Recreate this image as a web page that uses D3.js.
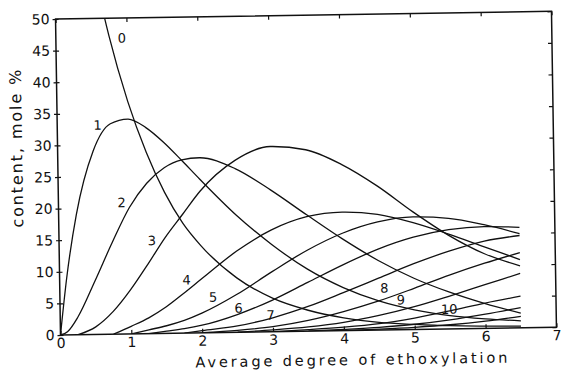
<!DOCTYPE html>
<html>
<head>
<meta charset="utf-8">
<script src="https://cdn.jsdelivr.net/npm/d3@7"></script>
<style>
  body { margin: 0; background: #fff; }
  svg { display: block; }
  text { font-family: "DejaVu Sans", sans-serif; fill: #111; }
</style>
</head>
<body>
<div id="vis"></div>
<script>
// average degree of ethoxylation at which the curves were read
var degree = [0, 0.1, 0.25, 0.5, 0.75, 1, 1.25, 1.5, 1.75, 2, 2.5, 3, 3.5, 4, 4.5, 5, 5.5, 6, 6.5];

// content, mole %, one list per adduct (null = curve not drawn there)
var adduct0  = [100, 90.5, 77.9, 60.7, 47.2, 36.8, 28.7, 22.3, 17.4, 13.8, 8.6, 5.3, 3.3, 2.0, 1.2, 0.8, 0.5, 0.35, 0.25];
var adduct1  = [0, 9.0, 19.0, 29.0, 33.3, 34.0, 32.6, 30.2, 27.3, 24.3, 18.6, 13.8, 9.8, 6.8, 4.6, 3.1, 2.1, 1.5, 1.1];
var adduct2  = [0, 0.5, 2.8, 8.5, 14.5, 20.0, 23.8, 26.2, 27.4, 27.7, 25.9, 22.4, 18.4, 14.5, 11.0, 8.1, 5.8, 3.9, 2.3];
var adduct3  = [null, null, 0, 1.2, 3.6, 7.0, 11.0, 15.2, 18.8, 22.4, 27.2, 29.3, 28.7, 26.3, 22.8, 18.6, 14.8, 11.8, 9.8];
var adduct4  = [null, null, null, null, 0, 1.2, 2.5, 4.2, 6.3, 8.5, 12.8, 16.1, 18.1, 18.75, 18.3, 16.9, 15.0, 12.9, 10.8];
var adduct5  = [null, null, null, null, null, 0, 0.6, 1.2, 2.0, 3.1, 6.0, 9.5, 12.8, 15.4, 17.1, 17.8, 17.5, 16.4, 14.9];
var adduct6  = [null, null, null, null, null, null, 0, 0.35, 0.7, 1.2, 2.8, 5.0, 7.7, 10.4, 12.8, 14.6, 15.7, 16.1, 15.9];
var adduct7  = [null, null, null, null, null, null, null, null, 0, 0.34, 1.0, 2.2, 3.9, 6.0, 8.2, 10.4, 12.3, 13.8, 14.6];
var adduct8  = [null, null, null, null, null, null, null, null, null, 0, 0.3, 0.8, 1.7, 3.0, 4.6, 6.5, 8.5, 10.3, 11.9];
var adduct9  = [null, null, null, null, null, null, null, null, null, null, 0, 0.27, 0.66, 1.3, 2.3, 3.6, 5.2, 6.9, 8.6];
var adduct10 = [null, null, null, null, null, null, null, null, null, null, null, 0, 0.23, 0.53, 1.0, 1.8, 2.85, 4.0, 5.0];
var adduct11 = [null, null, null, null, null, null, null, null, null, null, null, null, 0, 0.19, 0.43, 0.82, 1.43, 2.25, 3.2];
var adduct12 = [null, null, null, null, null, null, null, null, null, null, null, null, null, 0, 0.14, 0.34, 0.65, 1.13, 1.8];

var series = [adduct0, adduct1, adduct2, adduct3, adduct4, adduct5, adduct6,
              adduct7, adduct8, adduct9, adduct10, adduct11, adduct12];

// curve numbers and where they sit (degree, content)
var curveLabels  = ["0", "1", "2", "3", "4", "5", "6", "7", "8", "9", "10"];
var labelDegree  = [0.93, 0.57, 0.89, 1.31, 1.79, 2.16, 2.52, 2.97, 4.58, 4.81, 5.49];
var labelContent = [46.8, 33.1, 20.8, 14.7, 8.4, 5.6, 3.8, 2.6, 6.6, 4.7, 3.1];

var xTicks = [0, 1, 2, 3, 4, 5, 6, 7];
var yTicks = [0, 5, 10, 15, 20, 25, 30, 35, 40, 45, 50];

var width = 562,
    height = 371,
    plotLeft = 60.5,
    plotRight = 556.5,
    plotTop = 19,
    plotBottom = 335;

var svg = d3.select('#vis').append('svg')
    .attr('width', width)
    .attr('height', height);

// the printed page is a little skewed, so the whole chart is turned slightly
var g = svg.append('g')
    .attr('transform', 'rotate(-0.9,' + plotLeft + ',' + plotBottom + ')');

var x = d3.scaleLinear().domain([0, 7]).range([plotLeft, plotRight]);
var y = d3.scaleLinear().domain([0, 50]).range([plotBottom, plotTop]);

svg.append('defs').append('clipPath')
    .attr('id', 'plot')
  .append('rect')
    .attr('x', x(0))
    .attr('y', y(50))
    .attr('width', x(7) - x(0))
    .attr('height', y(0) - y(50));

// bottom axis with labels
g.append('g')
    .attr('transform', 'translate(0,' + plotBottom + ')')
    .call(d3.axisBottom(x).tickValues(xTicks).tickFormat(d3.format('d'))
      .tickSizeInner(-4).tickSizeOuter(0).tickPadding(3));

// left axis, ticks cross the line
var yAxis = g.append('g')
    .attr('transform', 'translate(' + plotLeft + ',0)')
    .call(d3.axisLeft(y).tickValues(yTicks).tickFormat(d3.format('d'))
      .tickSizeInner(3).tickSizeOuter(0).tickPadding(3));
yAxis.selectAll('.tick line').attr('x1', 3);

// top and right axes only carry ticks
g.append('g')
    .attr('transform', 'translate(0,' + plotTop + ')')
    .call(d3.axisTop(x).tickValues(xTicks).tickSizeInner(-4).tickSizeOuter(0).tickFormat(''));
g.append('g')
    .attr('transform', 'translate(' + plotRight + ',0)')
    .call(d3.axisRight(y).tickValues(yTicks).tickSizeInner(-4).tickSizeOuter(0).tickFormat(''));

g.selectAll('.domain').remove();
g.selectAll('.tick line').attr('stroke', '#111').attr('stroke-width', 1.2);
g.selectAll('.tick text')
    .attr('font-size', 14)
    .attr('font-family', '"DejaVu Sans", sans-serif')
    .attr('fill', '#111');

// frame
g.append('rect')
    .attr('x', x(0))
    .attr('y', y(50))
    .attr('width', x(7) - x(0))
    .attr('height', y(0) - y(50))
    .attr('fill', 'none')
    .attr('stroke', '#111')
    .attr('stroke-width', 1.5);

var line = d3.line()
    .defined(function(d) { return d != null; })
    .x(function(d, i) { return x(degree[i]); })
    .y(function(d) { return y(d); })
    .curve(d3.curveMonotoneX);

g.append('g')
    .attr('clip-path', 'url(#plot)')
  .selectAll('path')
  .data(series)
  .enter().append('path')
    .attr('d', line)
    .attr('fill', 'none')
    .attr('stroke', '#111')
    .attr('stroke-width', 1.3);

g.append('g')
  .selectAll('text')
  .data(curveLabels)
  .enter().append('text')
    .attr('x', function(d, i) { return x(labelDegree[i]); })
    .attr('y', function(d, i) { return y(labelContent[i]); })
    .attr('dy', '0.35em')
    .attr('text-anchor', 'middle')
    .attr('font-size', 13)
    .text(function(d) { return d; });

// axis titles
g.append('text')
    .attr('x', 351)
    .attr('y', 369.5)
    .attr('text-anchor', 'middle')
    .attr('font-size', 14.5)
    .attr('textLength', 312)
    .attr('lengthAdjust', 'spacing')
    .text('Average degree of ethoxylation');

g.append('text')
    .attr('transform', 'translate(25,148) rotate(-90)')
    .attr('text-anchor', 'middle')
    .attr('font-size', 16)
    .attr('textLength', 158)
    .attr('lengthAdjust', 'spacing')
    .text('content, mole %');
</script>
</body>
</html>
